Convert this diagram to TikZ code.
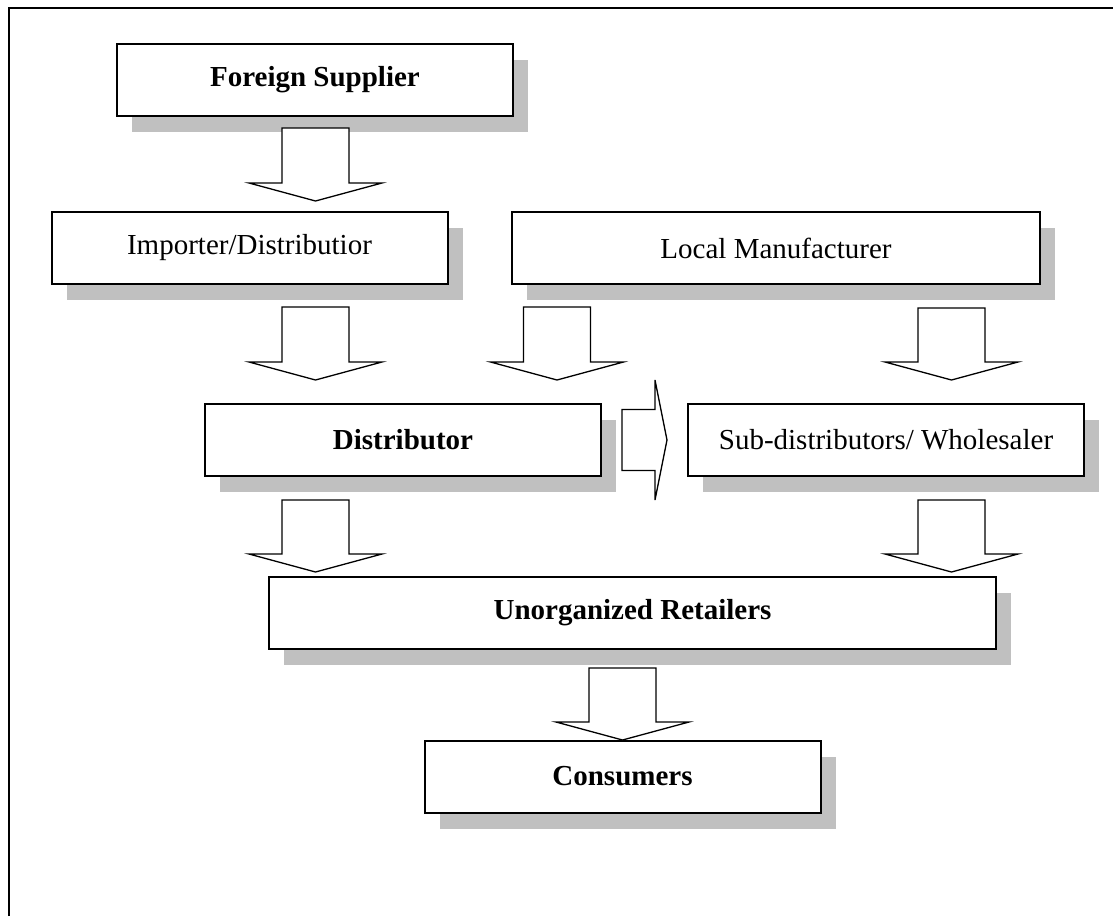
\documentclass[tikz,border=0pt]{standalone}
\usepackage{fontspec}
\setmainfont{Liberation Serif}
\usepackage{tikz}
\usetikzlibrary{%
  calc,%
  shadows%
}
\definecolor{shadowgray}{RGB}{192,192,192}
\tikzset{
  fat shaft/.store in=\fatshaft,
  fat head/.store in=\fathead,
  fat length/.store in=\fatlen,
  fat shaft=16.75pt, fat head=33.25pt, fat length=9pt,
  fatarrow/.style={draw, line width=0.65pt, fill=white, to path={
    ($(\tikztostart)!\fatshaft!90:(\tikztotarget)$)
    -- ($(\tikztotarget)!\fatlen!(\tikztostart)!\fatshaft!-90:(\tikztostart)$)
    -- ($(\tikztotarget)!\fatlen!(\tikztostart)!\fathead!-90:(\tikztostart)$)
    -- (\tikztotarget)
    -- ($(\tikztotarget)!\fatlen!(\tikztostart)!\fathead!90:(\tikztostart)$)
    -- ($(\tikztotarget)!\fatlen!(\tikztostart)!\fatshaft!90:(\tikztostart)$)
    -- ($(\tikztostart)!\fatshaft!-90:(\tikztotarget)$)
    -- cycle}},
  box/.style={draw, line width=1pt, fill=white, inner sep=0pt,
    minimum width=198pt, minimum height=36pt,
    font=\fontsize{14.5}{17}\selectfont,
    drop shadow={shadow xshift=7.5pt, shadow yshift=-8pt, opacity=1, fill=shadowgray}},
  boldbox/.style={box, font=\fontsize{14.5}{17}\selectfont\bfseries}
}

\begin{document}
\begin{tikzpicture}[x=0.5pt, y=-0.5pt]
\useasboundingbox (0,0) rectangle (1113,916);
\draw[line width=0.7pt] (9,916) -- (9,8) -- (1113,8);

\node[boldbox] (fs) at (315,79.5) {Foreign Supplier};
\node[box] (imp) at (249.5,247.5) {Importer/Distributior};
\node[box, minimum width=264pt] (lm) at (776,248) {Local Manufacturer};
\node[boldbox] (dist) at (403,440) {Distributor};
\node[box] (sub) at (886,440) {Sub-distributors/ Wholesaler};
\node[boldbox, minimum width=363.5pt] (ur) at (632.5,613) {Unorganized Retailers};
\node[boldbox] (con) at (622.5,776.5) {Consumers};

\coordinate (a1s) at (315.5,128);  \coordinate (a1e) at (315.5,201);
\coordinate (a2s) at (315.5,307);  \coordinate (a2e) at (315.5,380);
\coordinate (a3s) at (557,307);    \coordinate (a3e) at (557,380);
\coordinate (a4s) at (951.5,308);  \coordinate (a4e) at (951.5,380);
\coordinate (a5s) at (622,440);    \coordinate (a5e) at (667,440);
\coordinate (a6s) at (315.5,500);  \coordinate (a6e) at (315.5,572);
\coordinate (a7s) at (951.5,500);  \coordinate (a7e) at (951.5,572);
\coordinate (a8s) at (622.5,668);  \coordinate (a8e) at (622.5,740);

\draw
	(a1s) edge[fatarrow] (a1e)
	(a2s) edge[fatarrow] (a2e)
	(a3s) edge[fatarrow] (a3e)
	(a4s) edge[fatarrow] (a4e)
	(a5s) edge[fatarrow, fat shaft=15.25pt, fat head=30pt, fat length=6pt] (a5e)
	(a6s) edge[fatarrow] (a6e)
	(a7s) edge[fatarrow] (a7e)
	(a8s) edge[fatarrow] (a8e)
;
\end{tikzpicture}
\end{document}
